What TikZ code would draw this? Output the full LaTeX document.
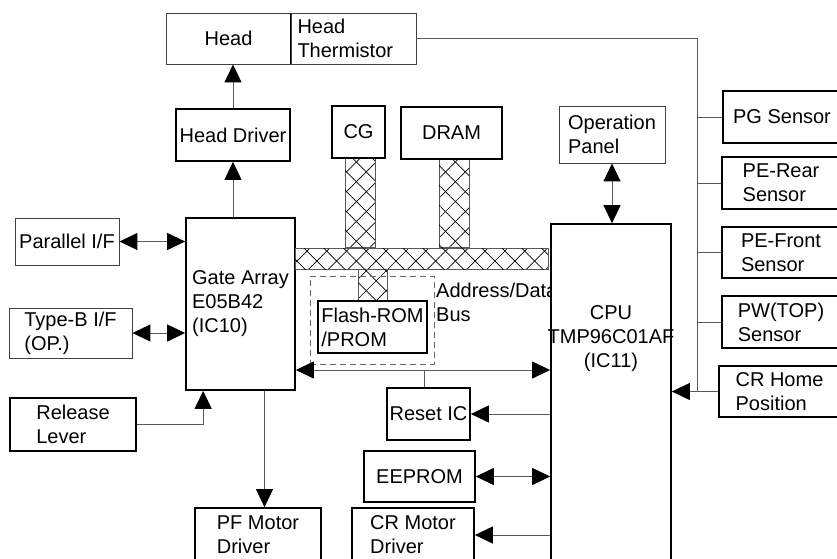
\documentclass[tikz,border=0pt]{standalone}
\usepackage{fontspec}
\setmainfont{Liberation Sans}
\usetikzlibrary{arrows.meta,patterns.meta,backgrounds,calc}

\begin{document}
\begin{tikzpicture}[x=1pt, y=-1pt,
  blk/.style={draw=black, line width=1.7pt, fill=white,
              font=\fontsize{20}{24}\selectfont, align=left, inner sep=2pt},
  thinblk/.style={blk, draw=black!75, line width=0.9pt},
  hatch/.style={draw=black!65, line width=1pt,
                pattern={Lines[angle=45,distance=14pt,line width=0.7pt]},
                postaction={pattern={Lines[angle=-45,distance=14pt,line width=0.7pt]}}},
  dashbox/.style={draw=black!60, line width=0.9pt, dash pattern=on 6pt off 4pt},
  lbl/.style={font=\fontsize{20}{24}\selectfont, align=left, inner sep=2pt},
  conn/.style={draw=black!65, line width=1pt},
  arrow/.style={conn, -{Triangle[length=18pt,width=17pt,color=black]}},
  darrow/.style={conn, {Triangle[length=18pt,width=17pt,color=black]}-{Triangle[length=18pt,width=17pt,color=black]}},
]
\useasboundingbox (0,0) rectangle (837,558);
\clip (0,0) rectangle (837,558);

% ---- Head ----
\node[thinblk, minimum width=125pt, minimum height=51pt] (head) at (228.5,38.5) {Head};
\node[thinblk, minimum width=125pt, minimum height=51pt, text width=112pt] (therm) at (353.5,38.5) {Head\\Thermistor};
\draw[line width=1.6pt] (therm.north west) -- (therm.south west);
\node[blk, minimum width=114pt, minimum height=52pt] (hdrv) at (233,135) {Head Driver};

% ---- Gate array and its I/O ----
\node[blk, minimum width=109pt, minimum height=172pt] (ga) at (240.5,304) {Gate Array\\E05B42\\(IC10)};
\node[thinblk, minimum width=104pt, minimum height=47pt] (par) at (67,241.5) {Parallel I/F};
\node[thinblk, minimum width=123pt, minimum height=50pt] (typeb) at (70.5,333) {Type-B I/F\\(OP.)};
\node[blk, minimum width=126pt, minimum height=53pt] (rel) at (73,424.5) {Release\\Lever};
\node[blk, minimum width=126pt, minimum height=54pt] (pf) at (258,535) {PF Motor\\Driver};

% ---- Memories on the bus ----
\node[blk, minimum width=53pt, minimum height=52pt] (cg) at (358.5,132) {CG};
\node[blk, minimum width=101pt, minimum height=52pt] (dram) at (451.5,133) {DRAM};
\node[hatch, minimum width=253pt, minimum height=21pt, inner sep=0pt] (bus) at (421.5,258.5) {};
\node[dashbox, minimum width=124pt, minimum height=88pt] (romarea) at (372,320) {};
\node[blk, minimum width=109pt, minimum height=52pt] (flash) at (372.5,327) {Flash-ROM\\/PROM};
\node[lbl, anchor=west] (busnote) at (434,302) {Address/Data\\Bus};

% ---- Around the CPU ----
\node[blk, minimum width=83pt, minimum height=52pt] (reset) at (428.5,414) {Reset IC};
\node[blk, minimum width=111pt, minimum height=51pt] (eeprom) at (419.5,476.5) {EEPROM};
\node[blk, minimum width=122pt, minimum height=54pt] (crm) at (413,535) {CR Motor\\Driver};
\node[thinblk, minimum width=106pt, minimum height=57pt] (oppanel) at (612,134.5) {Operation\\Panel};
\node[blk, minimum width=120pt, minimum height=346pt,
      label={[lbl, align=center, yshift=58pt]center:CPU\\TMP96C01AF\\(IC11)}] (cpu) at (611,397) {};

% ---- Sensors ----
\node[blk, minimum width=118pt, minimum height=52pt] (pg) at (782,117) {PG Sensor};
\node[blk, minimum width=118pt, minimum height=52pt] (perear) at (781,183) {PE-Rear\\Sensor};
\node[blk, minimum width=118pt, minimum height=51pt] (pefront) at (781,252.5) {PE-Front\\Sensor};
\node[blk, minimum width=118pt, minimum height=52pt] (pw) at (781,322) {PW(TOP)\\Sensor};
\node[blk, minimum width=121pt, minimum height=51pt] (crh) at (779.5,391.5) {CR Home\\Position};

% ---- Bus stubs ----
\begin{scope}[on background layer]
\draw[hatch] ($(cg.south)+(-13.5,0)$) rectangle ($(cg.south |- bus.north)+(16.5,0)$);
\draw[hatch] ($(dram.south)+(-12.5,0)$) rectangle ($(dram.south |- bus.north)+(17.5,0)$);
\draw[hatch] ($(flash.north)+(-14.5,0)$) rectangle ($(flash.north |- bus.south)+(14.5,0)$);
\end{scope}

% ---- Connections ----
\coordinate (trunk) at (697,391.5);
\coordinate (relin) at ($(ga.south west)+(18,0)$);
\coordinate (pfin) at ($(ga.south)+(24,0)$);
\coordinate (dline) at (424,370);

\draw[arrow] (hdrv.north) -- (hdrv.north |- head.south);
\draw[arrow] (hdrv.south |- ga.north) -- (hdrv.south);
\draw[darrow] (par.east) -- (par.east -| ga.west);
\draw[darrow] (typeb.east) -- (typeb.east -| ga.west);
\draw[arrow] (rel.east) -| (relin);
\draw[arrow] (pfin) -- (pfin |- pf.north);

\draw[darrow] (dline -| ga.east) -- (dline -| cpu.west);
\draw[conn] (dline) -- (dline |- reset.north);
\draw[arrow] (reset.east -| cpu.west) -- (reset.east);
\draw[darrow] (eeprom.east) -- (eeprom.east -| cpu.west);
\draw[arrow] (crm.east -| cpu.west) -- (crm.east);
\draw[darrow] (oppanel.south) -- (oppanel.south |- cpu.north);

% sensor lines
\draw[conn] (therm.east) -| (trunk);
\draw[conn] (pg.west) -- (pg.west -| trunk);
\draw[conn] (perear.west) -- (perear.west -| trunk);
\draw[conn] (pefront.west) -- (pefront.west -| trunk);
\draw[conn] (pw.west) -- (pw.west -| trunk);
\draw[arrow] (crh.west) -- (crh.west -| cpu.east);

\end{tikzpicture}
\end{document}
